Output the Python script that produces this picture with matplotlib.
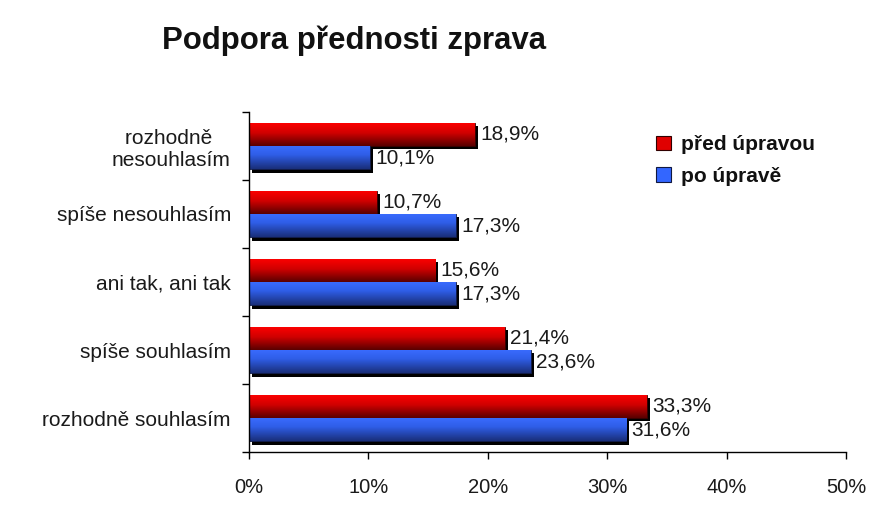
import matplotlib
matplotlib.use("Agg")
import matplotlib.pyplot as plt
import numpy as np
from matplotlib.colors import LinearSegmentedColormap
from matplotlib.patches import Patch
import matplotlib.patheffects as pe

plt.rcParams['font.family'] = ['Liberation Sans', 'DejaVu Sans']

categories = ["rozhodně souhlasím", "spíše souhlasím", "ani tak, ani tak",
              "spíše nesouhlasím", "rozhodně \nnesouhlasím"]
pred = [33.3, 21.4, 15.6, 10.7, 18.9]
po = [31.6, 23.6, 17.3, 17.3, 10.1]
series_names = ["před úpravou", "po úpravě"]
xticks = [0, 10, 20, 30, 40, 50]
title = "Podpora přednosti zprava"

red_cmap = LinearSegmentedColormap.from_list("r", [(0, "#5a0000"), (0.55, "#d00000"), (1, "#ff0000")])
blue_cmap = LinearSegmentedColormap.from_list("b", [(0, "#1a2f7a"), (0.6, "#2f5ee8"), (1, "#3a6cff")])

fig = plt.figure(figsize=(8.94, 5.18), dpi=100)
ax = fig.add_axes([0.2785, 0.1274, 0.6678, 0.6564])

y = np.arange(len(categories))
h = 0.345
grad = np.linspace(0, 1, 64).reshape(-1, 1)

shadow = [pe.SimplePatchShadow(offset=(2.2, -2.2), shadow_rgbFace='black', alpha=1.0), pe.Normal()]

for vals, off, cmap, base, edge in [(pred, h / 2, red_cmap, "#e00000", "#300000"),
                                    (po, -h / 2, blue_cmap, "#3366ff", "#101840")]:
    bars = ax.barh(y + off, vals, height=h, color=base, edgecolor=edge,
                   linewidth=0.6, zorder=2, path_effects=shadow)
    for b, v in zip(bars, vals):
        x0, y0 = b.get_x(), b.get_y()
        im = ax.imshow(grad, cmap=cmap, aspect='auto', origin='lower',
                       extent=[x0, x0 + b.get_width(), y0, y0 + b.get_height()], zorder=2.5)
        im.set_clip_path(b)
        ax.text(v + 0.45, y0 + b.get_height() / 2, f"{v:.1f}%".replace(".", ","),
                va='center', ha='left', fontsize=15, color='#1a1a1a', zorder=4)

ax.set_xlim(0, 50)
ax.set_ylim(-0.5, len(categories) - 0.5)
ax.set_xticks(xticks)
ax.set_xticklabels([f"{t}%" for t in xticks], fontsize=14.5, color='#1a1a1a')
ax.set_yticks(np.arange(-0.5, len(categories), 1.0))
ax.set_yticklabels([])
ax.set_yticks(y, minor=True)
ax.set_yticklabels(categories, minor=True, fontsize=15, color='#1a1a1a', multialignment='center')
ax.tick_params(axis='y', which='minor', length=0, pad=13)
ax.tick_params(axis='y', which='major', length=5, width=1, direction='out')
ax.tick_params(axis='x', length=5, width=1, direction='out', pad=14)
for s in ['top', 'right']:
    ax.spines[s].set_visible(False)
for s in ['left', 'bottom']:
    ax.spines[s].set_linewidth(1)
    ax.spines[s].set_zorder(5)

fig.text(0.396, 0.921, title, fontsize=22.4, fontweight='bold', ha='center', va='center', color='#111111')

handles = [Patch(facecolor="#e00000", edgecolor="#300000", linewidth=0.8),
           Patch(facecolor="#3366ff", edgecolor="#101840", linewidth=0.8)]
leg = fig.legend(handles, series_names, loc='upper left', bbox_to_anchor=(0.713, 0.775),
                 frameon=False, prop={'size': 15, 'weight': 'bold'}, handlelength=0.7,
                 handleheight=0.7, handletextpad=0.5, labelspacing=0.6)
for t in leg.get_texts():
    t.set_color('#111111')

fig.savefig("out.png", dpi=100)
